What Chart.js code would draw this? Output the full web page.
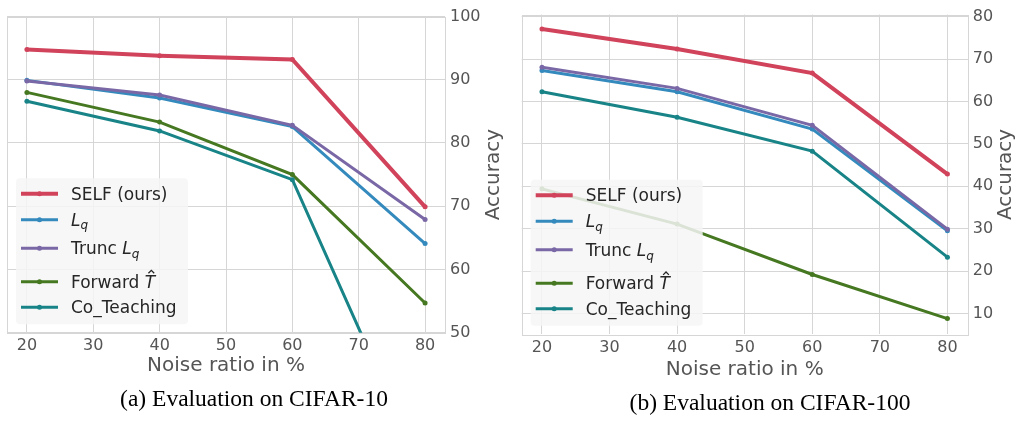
<!DOCTYPE html>
<html>
<head>
<meta charset="utf-8">
<script src="https://cdn.jsdelivr.net/npm/chart.js@4.4.1/dist/chart.umd.min.js"></script>
<style>
  html, body { margin: 0; padding: 0; background: #fff; }
  #wrap { position: relative; width: 1019px; height: 423px; overflow: hidden; }
  canvas { position: absolute; top: 0; }
  #c10 { left: 0; }
  #c100 { left: 510px; }
</style>
</head>
<body>
<div id="wrap">
  <canvas id="c10" width="510" height="423"></canvas>
  <canvas id="c100" width="509" height="423"></canvas>
</div>
<script>
// data
const noiseRatios = [20, 40, 60, 80];
const xTickValues = [20, 30, 40, 50, 60, 70, 80];

const seriesNames = ['SELF (ours)', '$L_q$', 'Trunc $L_q$', 'Forward $\\hat{T}$', 'Co_Teaching'];
const seriesColors = ['#d1435b', '#348abd', '#7a68a6', '#467821', '#188487'];

// CIFAR-10
const cifar10Self = [94.8, 93.8, 93.2, 69.9];
const cifar10Lq = [89.9, 87.1, 82.6, 64.1];
const cifar10TruncLq = [89.8, 87.6, 82.8, 67.9];
const cifar10Forward = [88.0, 83.3, 75.0, 54.7];
const cifar10CoTeaching = [86.6, 81.9, 74.2, 27.2];
const cifar10Ticks = [50, 60, 70, 80, 90, 100];

// CIFAR-100
const cifar100Self = [77.1, 72.4, 66.7, 42.9];
const cifar100Lq = [67.3, 62.3, 53.5, 29.5];
const cifar100TruncLq = [68.1, 63.1, 54.4, 29.9];
const cifar100Forward = [39.4, 31.1, 19.2, 8.8];
const cifar100CoTeaching = [62.3, 56.3, 48.3, 23.3];
const cifar100Ticks = [10, 20, 30, 40, 50, 60, 70, 80];

const xTitle = 'Noise ratio in %';
const yTitle = 'Accuracy';

Chart.defaults.font.family = '"DejaVu Sans", sans-serif';
Chart.defaults.animation = false;

const TICK_COLOR = '#555555';
const GRID_COLOR = '#d6d6d6';
const legendRows = [15.5, 41.5, 70, 103.5, 129];

// draws "text $math$" labels: italic math, _sub and \hat{X}
function drawRich(ctx, markup, x, y, size) {
  const parts = markup.split('$');
  ctx.textBaseline = 'alphabetic';
  ctx.textAlign = 'left';
  parts.forEach((p, i) => {
    if (!p) return;
    if (i % 2 === 0) {
      ctx.font = size + 'px "DejaVu Sans"';
      ctx.fillText(p, x, y);
      x += ctx.measureText(p).width;
      return;
    }
    const hat = p.match(/^\\hat\{(.)\}$/);
    if (hat) {
      ctx.font = 'italic ' + size + 'px "DejaVu Sans"';
      ctx.fillText(hat[1], x, y);
      const w = ctx.measureText(hat[1]).width;
      const cx = x + w / 2 + size * 0.08;
      const top = y - size * 0.85;
      ctx.save();
      ctx.strokeStyle = ctx.fillStyle;
      ctx.lineWidth = 1.3;
      ctx.beginPath();
      ctx.moveTo(cx - size * 0.17, top);
      ctx.lineTo(cx, top - size * 0.17);
      ctx.lineTo(cx + size * 0.17, top);
      ctx.stroke();
      ctx.restore();
      x += w;
      return;
    }
    const [base, sub] = p.split('_');
    ctx.font = 'italic ' + size + 'px "DejaVu Sans"';
    ctx.fillText(base, x, y);
    x += ctx.measureText(base).width;
    if (sub) {
      ctx.font = 'italic ' + Math.round(size * 0.7) + 'px "DejaVu Sans"';
      ctx.fillText(sub, x, y + size * 0.22);
      x += ctx.measureText(sub).width;
    }
  });
}

const decorPlugin = {
  id: 'decor',
  beforeDatasetsDraw(chart, args, opts) {
    const a = chart.chartArea;
    const ctx = chart.ctx;
    ctx.save();
    ctx.strokeStyle = GRID_COLOR;
    ctx.lineWidth = 1;
    ctx.strokeRect(Math.round(a.left) + 0.5, Math.round(a.top) + 0.5,
      Math.round(a.right - a.left), Math.round(a.bottom - a.top));
    ctx.restore();
  },
  afterDatasetsDraw(chart, args, opts) {
    const a = chart.chartArea;
    const ctx = chart.ctx;
    ctx.save();

    // legend box, lower left inside the plot
    const bx = a.left + 9, bw = 172, bh = 146;
    const by = a.bottom - 8.5 - bh;
    ctx.fillStyle = 'rgba(246,246,246,0.85)';
    ctx.beginPath();
    ctx.roundRect(bx, by, bw, bh, 4);
    ctx.fill();
    chart.data.datasets.forEach((ds, i) => {
      const ly = by + legendRows[i];
      ctx.strokeStyle = ds.borderColor;
      ctx.lineWidth = ds.borderWidth;
      ctx.beginPath();
      ctx.moveTo(bx + 5, ly);
      ctx.lineTo(bx + 42, ly);
      ctx.stroke();
      ctx.fillStyle = ds.borderColor;
      ctx.beginPath();
      ctx.arc(bx + 23.5, ly, 2.5, 0, Math.PI * 2);
      ctx.fill();
      ctx.fillStyle = '#262626';
      drawRich(ctx, ds.label, bx + 55, ly + 6, 17);
    });

    // axis titles
    ctx.fillStyle = TICK_COLOR;
    ctx.font = '20px "DejaVu Sans"';
    ctx.textAlign = 'center';
    ctx.textBaseline = 'middle';
    ctx.fillText(xTitle, (a.left + a.right) / 2, a.bottom + opts.xTitleGap);
    ctx.save();
    ctx.translate(opts.yTitleX, (a.top + a.bottom) / 2);
    ctx.rotate(-Math.PI / 2);
    ctx.fillText(yTitle, 0, 0);
    ctx.restore();

    // caption under the panel
    ctx.fillStyle = '#000';
    ctx.font = '23.5px "Liberation Serif", "Times New Roman", serif';
    ctx.fillText(opts.caption, opts.captionX, opts.captionY);
    ctx.restore();
  }
};

function makeChart(canvasId, values, yTicks, yMin, yMax, pad, extra) {
  const datasets = values.map((v, i) => ({
    label: seriesNames[i],
    data: noiseRatios.map((x, j) => ({ x: x, y: v[j] })),
    borderColor: seriesColors[i],
    backgroundColor: seriesColors[i],
    borderWidth: i === 0 ? 4 : 3,
    pointRadius: 2.5,
    pointBorderWidth: 0,
    pointBackgroundColor: seriesColors[i],
    tension: 0,
    order: -i
  }));
  return new Chart(document.getElementById(canvasId), {
    type: 'line',
    data: { datasets: datasets },
    options: {
      responsive: false,
      layout: { padding: pad },
      plugins: {
        legend: { display: false },
        tooltip: { enabled: false },
        decor: extra
      },
      scales: {
        x: {
          type: 'linear',
          min: 17,
          max: 83,
          afterBuildTicks: s => { s.ticks = xTickValues.map(v => ({ value: v })); },
          afterFit: s => { s.height = 30; },
          grid: { color: GRID_COLOR, drawTicks: false },
          border: { display: false },
          ticks: { color: TICK_COLOR, font: { size: 16 }, padding: 4, maxRotation: 0 }
        },
        y: {
          type: 'linear',
          position: 'right',
          min: yMin,
          max: yMax,
          afterBuildTicks: s => { s.ticks = yTicks.map(v => ({ value: v })); },
          afterFit: s => { s.width = 50; },
          grid: { color: GRID_COLOR, drawTicks: false },
          border: { display: false },
          ticks: { color: TICK_COLOR, font: { size: 16 }, padding: 5 }
        }
      }
    },
    plugins: [decorPlugin]
  });
}

makeChart('c10',
  [cifar10Self, cifar10Lq, cifar10TruncLq, cifar10Forward, cifar10CoTeaching],
  cifar10Ticks, 50, 100,
  { left: 7, top: 16.5, right: 15, bottom: 60.3 },
  { xTitleGap: 33, yTitleX: 494, caption: '(a) Evaluation on CIFAR-10', captionX: 254, captionY: 400 });

makeChart('c100',
  [cifar100Self, cifar100Lq, cifar100TruncLq, cifar100Forward, cifar100CoTeaching],
  cifar100Ticks, 5.1, 80.5,
  { left: 11.7, top: 12.7, right: 1.3, bottom: 58.7 },
  { xTitleGap: 35, yTitleX: 496, caption: '(b) Evaluation on CIFAR-100', captionX: 260, captionY: 404 });
</script>
</body>
</html>
